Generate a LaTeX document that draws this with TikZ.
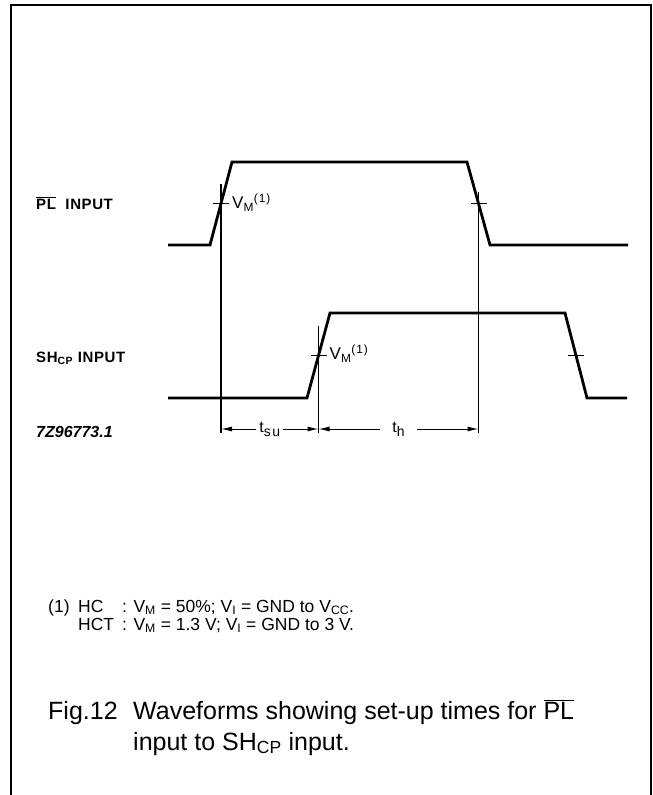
\documentclass[tikz,border=0pt]{standalone}
\usepackage{fontspec}
\setmainfont{Liberation Sans}
\usetikzlibrary{arrows.meta,positioning,calc}

\newcommand{\lblfont}{\fontsize{15}{17}\selectfont\bfseries\addfontfeature{LetterSpace=4}}
\newcommand{\barred}[1]{$\overline{\hbox{#1}}$}
\newcommand{\lowsub}[1]{\raisebox{-4pt}{\fontsize{14}{14}\selectfont #1}}

\begin{document}
\begin{tikzpicture}[x=1pt,y=-1pt,
  wave/.style={line width=2.8pt, line join=miter},
  markline/.style={line width=1.1pt},
  tickmark/.style={line width=1.4pt},
  dim/.style={line width=1pt, -{Latex[length=11pt,width=5pt]}},
  sig/.style={font=\lblfont, anchor=base west, inner sep=0pt},
  vm/.style={font=\fontsize{17}{19}\selectfont\addfontfeature{LetterSpace=8}, anchor=base west, inner sep=0pt},
  tlabel/.style={font=\fontsize{16}{18}\selectfont\addfontfeature{LetterSpace=10}, fill=white, inner sep=3pt},
  note/.style={font=\fontsize{17.5}{19}\selectfont, anchor=base west, inner sep=0pt},
  caption/.style={font=\fontsize{25}{30}\selectfont, anchor=base west, inner sep=0pt}]
\useasboundingbox (0,0) rectangle (653,795);
% Frame (open at the bottom)
\draw[line width=2pt] (11,795) -- (11,5) -- (651,5) -- (651,795);
% PL waveform
\coordinate (pl0) at (168,245); \coordinate (pl1) at (210,245);
\coordinate (pl2) at (232,162); \coordinate (pl3) at (467,162);
\coordinate (pl4) at (490,245); \coordinate (pl5) at (628,245);
\draw[wave] (pl0) -- (pl1) -- (pl2) -- (pl3) -- (pl4) -- (pl5);
% SH_CP waveform
\coordinate (sh0) at (168,398); \coordinate (sh1) at (307,398);
\coordinate (sh2) at (330,313); \coordinate (sh3) at (565,313);
\coordinate (sh4) at (587,398); \coordinate (sh5) at (627,398);
\draw[wave] (sh0) -- (sh1) -- (sh2) -- (sh3) -- (sh4) -- (sh5);
% 50% points on the edges
\coordinate (plr) at ($(pl1)!0.5!(pl2)$);
\coordinate (plf) at ($(pl3)!0.5!(pl4)$);
\coordinate (shr) at ($(sh1)!0.5!(sh2)$);
\coordinate (shf) at ($(sh3)!0.5!(sh4)$);
\coordinate (dimline) at (0,429);
\foreach \p in {plr,plf,shr,shf} {
  \draw[tickmark] ([xshift=-8pt]\p) -- ([xshift=8pt]\p);
}
% reference lines down to the timing arrows
\foreach \p/\h in {plr/20,plf/12,shr/30} {
  \draw[markline] ([yshift=\h pt]\p) -- ([yshift=-4pt]\p |- dimline);
}
% V_M labels
\node[vm] (vmpl) at ([xshift=11pt,yshift=-5pt]plr) {V\textsubscript{M}\textsuperscript{(1)}};
\node[vm] (vmsh) at ([xshift=11pt,yshift=-4pt]shr) {V\textsubscript{M}\textsuperscript{(1)}};
% timing arrows
\coordinate (su1) at (plr |- dimline);
\coordinate (su2) at (shr |- dimline);
\coordinate (h2) at (plf |- dimline);
\node[tlabel] (tsu) at ($(su1)!0.5!(su2)$) {t\lowsub{su}};
\node[tlabel, inner xsep=12pt] (th) at ($(su2)!0.5!(h2)$) {t\lowsub{h}};
\draw[dim] (tsu) -- (su1);
\draw[dim] (tsu) -- (su2);
\draw[dim] (th) -- (su2);
\draw[dim] (th) -- (h2);
% signal names
\node[sig] (plname) at (36,209) {\barred{PL}\ \ INPUT};
\node[sig] (shname) at (36,362) {SH\textsubscript{CP}\ INPUT};
\node[sig, font=\fontsize{16}{18}\selectfont\bfseries\itshape] (figno) at (36,437) {7Z96773.1};
% note
\node[note] (n1) at (48,612) {(1)};
\node[note] (hc) at (78,612) {HC};
\node[note] (hcv) at (122,612) {: V\textsubscript{M} = 50\%; V\textsubscript{I} = GND to V\textsubscript{CC}.};
\node[note] (hct) at (78,630) {HCT};
\node[note] (hctv) at (122,630) {: V\textsubscript{M} = 1.3 V; V\textsubscript{I} = GND to 3 V.};
% caption
\node[caption] (fig) at (48,719) {Fig.12};
\node[caption] (cap1) at (133,719) {Waveforms showing set-up times for \barred{PL}};
\node[caption] (cap2) at (133,750) {input to SH\textsubscript{CP} input.};
\end{tikzpicture}
\end{document}
